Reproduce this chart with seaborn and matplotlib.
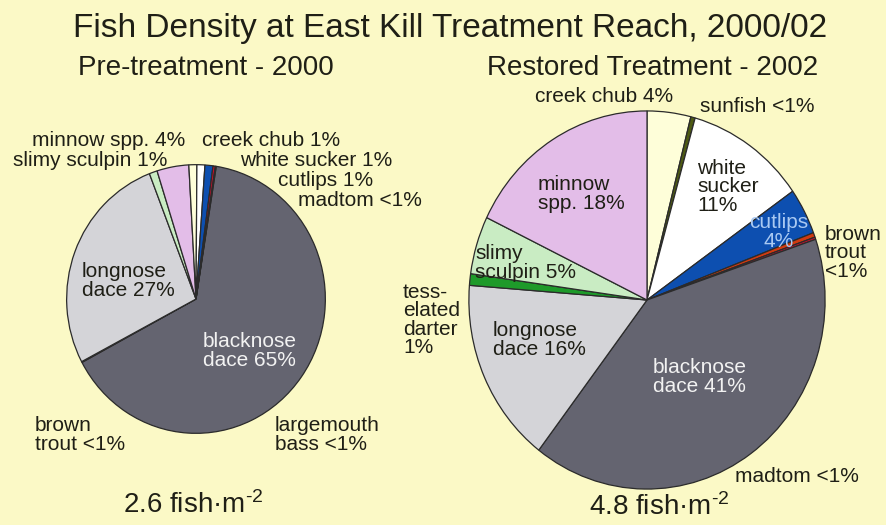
import matplotlib
matplotlib.use("Agg")
import matplotlib.pyplot as plt
import seaborn as sns

# ---- data -------------------------------------------------------------
pre_species = ["blacknose dace", "brown trout", "longnose dace", "slimy sculpin",
               "minnow spp.", "creek chub", "white sucker", "cutlips", "madtom",
               "largemouth bass"]
pre_share = [65, 0.1, 27, 1, 4, 1, 1, 1, 0.3, 0.1]

post_species = ["creek chub", "sunfish", "white sucker", "cutlips", "brown trout",
                "madtom", "blacknose dace", "longnose dace", "tessellated darter",
                "slimy sculpin", "minnow spp."]
post_share = [4, 0.4, 11, 4, 0.4, 0.2, 41, 16, 1, 5, 18]

pre_density = 2.6
post_density = 4.8

# ---- styling ----------------------------------------------------------
sns.set_style("white")
plt.rcParams["font.family"] = ["Liberation Sans", "DejaVu Sans"]
plt.rcParams["mathtext.fontset"] = "custom"
plt.rcParams["mathtext.rm"] = "Liberation Sans"
plt.rcParams["mathtext.default"] = "regular"

BG = "#fbf9c6"
INK = "#1f1f16"
species_colors = {
    "blacknose dace": "#646470",
    "longnose dace": "#d4d4d8",
    "slimy sculpin": "#c9ecc3",
    "minnow spp.": "#e3bde8",
    "creek chub": "#fefed9",
    "white sucker": "#ffffff",
    "cutlips": "#0d4fb0",
    "madtom": "#c8102e",
    "brown trout": "#d03a10",
    "largemouth bass": "#3a3a3a",
    "sunfish": "#4d5a12",
    "tessellated darter": "#1e9a2a",
}

W, H = 887, 525
fig = plt.figure(figsize=(W / 100, H / 100), dpi=100, facecolor=BG)


def pie_axes(cx, cy, rx, ry):
    return fig.add_axes([(cx - rx) / W, 1 - (cy + ry) / H, 2 * rx / W, 2 * ry / H])


def draw_pie(ax, species, shares, start):
    ax.pie(shares, colors=[species_colors[s] for s in species], startangle=start,
           counterclock=False, radius=1.0,
           wedgeprops=dict(edgecolor="#2b2b2b", linewidth=0.9))
    ax.set_aspect("auto")
    ax.set_xlim(-1.005, 1.005)
    ax.set_ylim(-1.005, 1.005)
    ax.axis("off")


draw_pie(pie_axes(196, 299, 130, 135), pre_species, pre_share, 81)
draw_pie(pie_axes(647, 300, 179, 190), post_species, post_share, 90)

# full-figure text layer in pixel units, on top of both pies
bg = fig.add_axes([0, 0, 1, 1])
bg.set_xlim(0, W)
bg.set_ylim(H, 0)
bg.axis("off")
bg.patch.set_visible(False)
bg.set_zorder(10)

# ---- titles -----------------------------------------------------------
bg.text(450, 28, "Fish Density at East Kill Treatment Reach, 2000/02",
        ha="center", va="center", fontsize=24, color=INK)
bg.text(78, 68, "Pre-treatment - 2000", ha="left", va="center", fontsize=20, color=INK)
bg.text(487, 68, "Restored Treatment - 2002", ha="left", va="center", fontsize=20, color=INK)

# ---- slice labels -----------------------------------------------------
labels = [
    ("minnow spp. 4%", 32, 141, INK),
    ("creek chub 1%", 202, 141, INK),
    ("slimy sculpin 1%", 13, 161, INK),
    ("white sucker 1%", 240, 161, INK),
    ("cutlips 1%", 278, 181, INK),
    ("madtom <1%", 298, 200, INK),
    ("longnose\ndace 27%", 82, 281, INK),
    ("blacknose\ndace 65%", 203, 351, "#f2f2f2"),
    ("brown\ntrout <1%", 35, 435, INK),
    ("largemouth\nbass <1%", 275, 435, INK),
    ("creek chub 4%", 535, 97, INK),
    ("sunfish <1%", 700, 107, INK),
    ("minnow\nspp. 18%", 538, 194, INK),
    ("white\nsucker\n11%", 697, 187, INK),
    ("brown\ntrout\n<1%", 825, 253, INK),
    ("slimy\nsculpin 5%", 475, 263, INK),
    ("tess-\nelated\ndarter\n1%", 403, 320, INK),
    ("longnose\ndace 16%", 493, 340, INK),
    ("blacknose\ndace 41%", 653, 377, "#f2f2f2"),
    ("madtom <1%", 735, 476, INK),
]
for text, x, y, col in labels:
    bg.text(x, y, text, ha="left", va="center", fontsize=15, color=col,
            linespacing=0.95)

bg.text(779, 232, "cutlips\n4%", ha="center", va="center", fontsize=15,
        color="#a9c9f2", linespacing=0.95, multialignment="center")

bg.text(193, 505, f"{pre_density} fish·m$^{{\\text{{-}}2}}$", ha="center", va="center",
        fontsize=20, color=INK)
bg.text(659, 507, f"{post_density} fish·m$^{{\\text{{-}}2}}$", ha="center", va="center",
        fontsize=20, color=INK)

fig.savefig("out.png", dpi=100, facecolor=BG)
